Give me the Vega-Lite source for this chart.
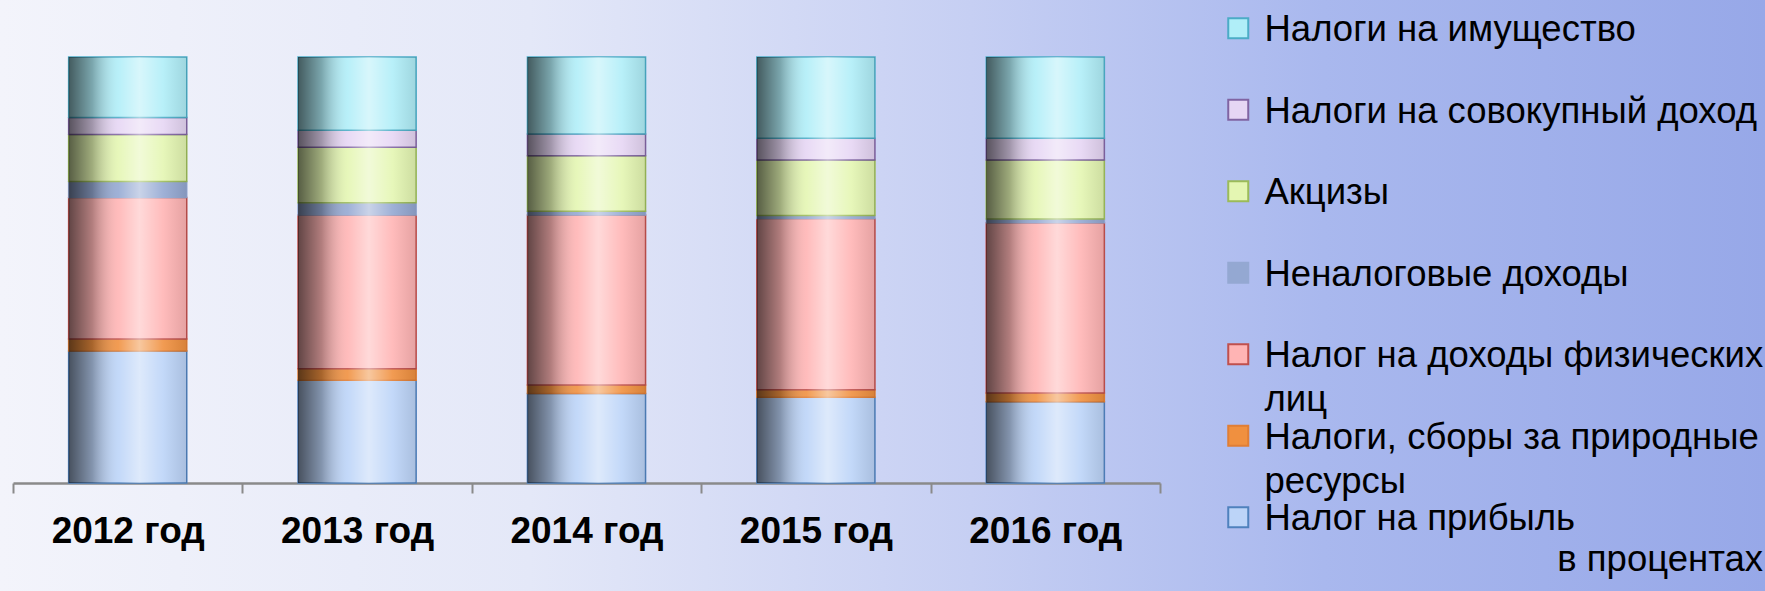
{
  "$schema": "https://vega.github.io/schema/vega-lite/v6.json",
  "width": 1765,
  "height": 591,
  "padding": 0,
  "autosize": {"type": "none"},
  "background": "#c8d0f2",
  "config": {
    "font": "Liberation Sans",
    "view": {
      "stroke": null,
      "fill": {
        "gradient": "linear",
        "x1": 0, "y1": 0, "x2": 1, "y2": 0,
        "stops": [
          {"offset": 0, "color": "#f3f4fb"},
          {"offset": 0.3, "color": "#e4e8f8"},
          {"offset": 0.55, "color": "#c6cff3"},
          {"offset": 0.75, "color": "#a9b8ee"},
          {"offset": 1, "color": "#97a8e8"}
        ]
      }
    },
    "style": {"guide-label": {"lineHeight": 44}}
  },
  "data": {
    "values": [
      {"year": "2012 год", "cat": "Налог на прибыль", "value": 31.0, "rank": 1},
      {"year": "2012 год", "cat": "Налоги, сборы за природные ресурсы", "value": 2.8, "rank": 2},
      {"year": "2012 год", "cat": "Налог на доходы физических лиц", "value": 33.2, "rank": 3},
      {"year": "2012 год", "cat": "Неналоговые доходы", "value": 3.8, "rank": 4},
      {"year": "2012 год", "cat": "Акцизы", "value": 11.0, "rank": 5},
      {"year": "2012 год", "cat": "Налоги на совокупный доход", "value": 4.0, "rank": 6},
      {"year": "2012 год", "cat": "Налоги на имущество", "value": 14.2, "rank": 7},
      {"year": "2013 год", "cat": "Налог на прибыль", "value": 24.1, "rank": 1},
      {"year": "2013 год", "cat": "Налоги, сборы за природные ресурсы", "value": 2.7, "rank": 2},
      {"year": "2013 год", "cat": "Налог на доходы физических лиц", "value": 36.1, "rank": 3},
      {"year": "2013 год", "cat": "Неналоговые доходы", "value": 2.9, "rank": 4},
      {"year": "2013 год", "cat": "Акцизы", "value": 13.0, "rank": 5},
      {"year": "2013 год", "cat": "Налоги на совокупный доход", "value": 4.0, "rank": 6},
      {"year": "2013 год", "cat": "Налоги на имущество", "value": 17.2, "rank": 7},
      {"year": "2014 год", "cat": "Налог на прибыль", "value": 21.0, "rank": 1},
      {"year": "2014 год", "cat": "Налоги, сборы за природные ресурсы", "value": 2.0, "rank": 2},
      {"year": "2014 год", "cat": "Налог на доходы физических лиц", "value": 39.9, "rank": 3},
      {"year": "2014 год", "cat": "Неналоговые доходы", "value": 0.9, "rank": 4},
      {"year": "2014 год", "cat": "Акцизы", "value": 13.0, "rank": 5},
      {"year": "2014 год", "cat": "Налоги на совокупный доход", "value": 5.1, "rank": 6},
      {"year": "2014 год", "cat": "Налоги на имущество", "value": 18.1, "rank": 7},
      {"year": "2015 год", "cat": "Налог на прибыль", "value": 20.1, "rank": 1},
      {"year": "2015 год", "cat": "Налоги, сборы за природные ресурсы", "value": 1.8, "rank": 2},
      {"year": "2015 год", "cat": "Налог на доходы физических лиц", "value": 40.2, "rank": 3},
      {"year": "2015 год", "cat": "Неналоговые доходы", "value": 0.7, "rank": 4},
      {"year": "2015 год", "cat": "Акцизы", "value": 13.0, "rank": 5},
      {"year": "2015 год", "cat": "Налоги на совокупный доход", "value": 5.1, "rank": 6},
      {"year": "2015 год", "cat": "Налоги на имущество", "value": 19.1, "rank": 7},
      {"year": "2016 год", "cat": "Налог на прибыль", "value": 19.1, "rank": 1},
      {"year": "2016 год", "cat": "Налоги, сборы за природные ресурсы", "value": 2.0, "rank": 2},
      {"year": "2016 год", "cat": "Налог на доходы физических лиц", "value": 40.0, "rank": 3},
      {"year": "2016 год", "cat": "Неналоговые доходы", "value": 0.9, "rank": 4},
      {"year": "2016 год", "cat": "Акцизы", "value": 13.8, "rank": 5},
      {"year": "2016 год", "cat": "Налоги на совокупный доход", "value": 5.1, "rank": 6},
      {"year": "2016 год", "cat": "Налоги на имущество", "value": 19.1, "rank": 7}
    ]
  },
  "layer": [
    {
      "mark": {"type": "bar", "width": {"band": 0.515}, "strokeWidth": 1.5, "opacity": 1},
      "encoding": {
        "x": {
          "field": "year", "type": "nominal", "sort": null,
          "scale": {"range": [13, 1160], "paddingInner": 0, "paddingOuter": 0},
          "axis": {
            "title": null, "labelAngle": 0, "labelFontSize": 37, "labelFontWeight": "bold",
            "labelColor": "#000000", "labelFont": "Liberation Sans", "labelPadding": 20,
            "tickBand": "extent", "tickSize": 10, "tickColor": "#8a8a8a", "tickWidth": 2,
            "domainColor": "#8a8a8a", "domainWidth": 2.5, "offset": -108, "grid": false
          }
        },
        "y": {
          "field": "value", "type": "quantitative", "stack": "zero",
          "scale": {"domain": [0, 100], "range": [483, 57], "nice": false, "zero": true},
          "axis": null
        },
        "color": {
          "field": "cat", "type": "nominal",
          "scale": {
            "domain": ["Налоги на имущество", "Налоги на совокупный доход", "Акцизы", "Неналоговые доходы", "Налог на доходы физических лиц", "Налоги, сборы за природные ресурсы", "Налог на прибыль"],
            "range": ["#b0eef8", "#e6d6f4", "#e4f6b2", "#94a8d2", "#ffb4b4", "#f0903f", "#bcd4f8"]
          },
          "legend": {
            "title": "в процентах", "orient": "none", "legendX": 1220, "legendY": 23,
            "titleOrient": "bottom", "titleAnchor": "end", "titleFontSize": 36.5, "titleFontWeight": "normal",
            "titleColor": "#000000", "titleFont": "Liberation Sans", "titlePadding": 4, "titleLimit": 800,
            "labelFontSize": 36.5, "labelColor": "#000000", "labelFont": "Liberation Sans", "labelLimit": 800,
            "labelBaseline": "alphabetic", "labelOffset": 8,
            "symbolType": "M-1,-2.3H1V-0.3H-1Z", "symbolSize": 400, "symbolStrokeWidth": 2, "symbolOpacity": 1,
            "gridAlign": "all", "rowPadding": 0.5, "padding": 0,
            "labelExpr": "datum.label == 'Налог на доходы физических лиц' ? ['Налог на доходы физических', 'лиц'] : datum.label == 'Налоги, сборы за природные ресурсы' ? ['Налоги, сборы за природные', 'ресурсы'] : datum.label"
          }
        },
        "stroke": {
          "field": "cat", "type": "nominal",
          "scale": {
            "domain": ["Налоги на имущество", "Налоги на совокупный доход", "Акцизы", "Неналоговые доходы", "Налог на доходы физических лиц", "Налоги, сборы за природные ресурсы", "Налог на прибыль"],
            "range": ["#4bacc6", "#8064a2", "#9bbb59", "#94a8d2", "#c0504d", "#e07e35", "#4f81bd"]
          },
          "legend": {
            "title": "в процентах", "orient": "none", "legendX": 1220, "legendY": 23,
            "titleOrient": "bottom", "titleAnchor": "end", "titleFontSize": 36.5, "titleFontWeight": "normal",
            "titleColor": "#000000", "titleFont": "Liberation Sans", "titlePadding": 4, "titleLimit": 800,
            "labelFontSize": 36.5, "labelColor": "#000000", "labelFont": "Liberation Sans", "labelLimit": 800,
            "labelBaseline": "alphabetic", "labelOffset": 8,
            "symbolType": "M-1,-2.3H1V-0.3H-1Z", "symbolSize": 400, "symbolStrokeWidth": 2, "symbolOpacity": 1,
            "gridAlign": "all", "rowPadding": 0.5, "padding": 0,
            "labelExpr": "datum.label == 'Налог на доходы физических лиц' ? ['Налог на доходы физических', 'лиц'] : datum.label == 'Налоги, сборы за природные ресурсы' ? ['Налоги, сборы за природные', 'ресурсы'] : datum.label"
          }
        },
        "order": {"field": "rank", "type": "quantitative"}
      }
    },
    {
      "mark": {
        "type": "bar", "width": {"band": 0.515},
        "fill": {
          "gradient": "linear", "x1": 0, "y1": 0, "x2": 1, "y2": 0,
          "stops": [
            {"offset": 0, "color": "rgba(0,0,0,0.62)"},
            {"offset": 0.2, "color": "rgba(0,0,0,0.3)"},
            {"offset": 0.42, "color": "rgba(255,255,255,0.1)"},
            {"offset": 0.6, "color": "rgba(255,255,255,0.5)"},
            {"offset": 0.8, "color": "rgba(255,255,255,0.1)"},
            {"offset": 1, "color": "rgba(0,0,0,0.1)"}
          ]
        }
      },
      "encoding": {
        "x": {"field": "year", "type": "nominal", "sort": null},
        "y": {"aggregate": "sum", "field": "value", "type": "quantitative"}
      }
    }
  ]
}
